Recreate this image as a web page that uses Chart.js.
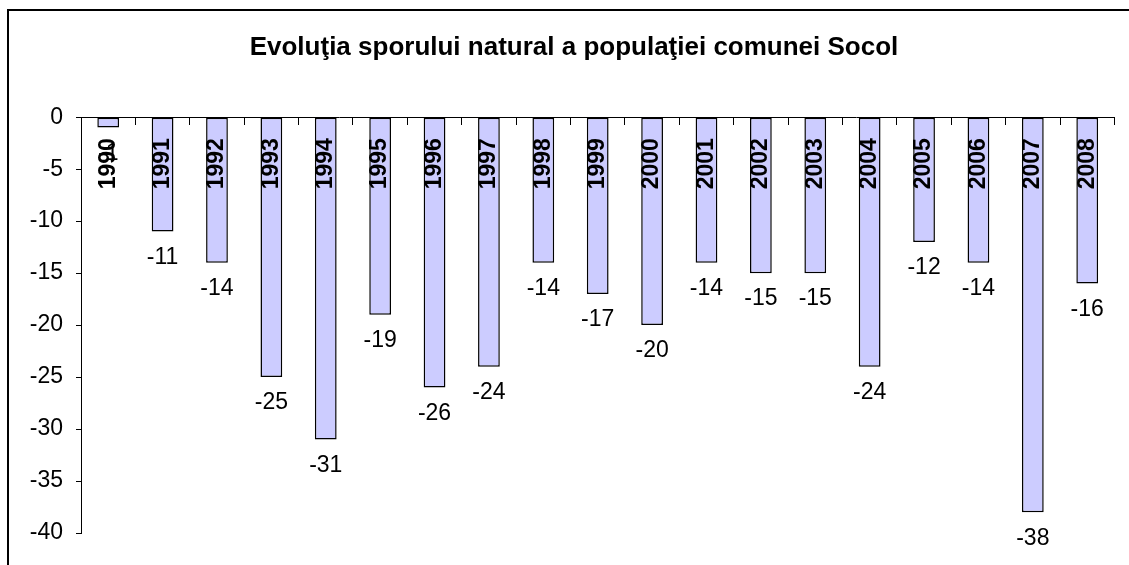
<!DOCTYPE html>
<html>
<head>
<meta charset="utf-8">
<script src="https://cdn.jsdelivr.net/npm/chart.js@4.4.0/dist/chart.umd.min.js"></script>
<style>
  html, body { margin: 0; padding: 0; background: #ffffff; overflow: hidden; }
  #wrap { position: relative; width: 1129px; height: 565px; }
</style>
</head>
<body>
<div id="wrap"><canvas id="c" width="1129" height="565"></canvas></div>
<script>
const titleText = 'Evoluţia sporului natural a populaţiei comunei Socol';
const years = ['1990','1991','1992','1993','1994','1995','1996','1997','1998','1999','2000','2001','2002','2003','2004','2005','2006','2007','2008'];
const sporNatural = [-1,-11,-14,-25,-31,-19,-26,-24,-14,-17,-20,-14,-15,-15,-24,-12,-14,-38,-16];
const yMin = -40, yMax = 0, yStep = 5;

const FONT = "'Liberation Sans', Arial, sans-serif";

const framePlugin = {
  id: 'frame',
  beforeDraw(chart) {
    const ctx = chart.ctx;
    ctx.save();
    ctx.fillStyle = '#ffffff';
    ctx.fillRect(0, 0, chart.width, chart.height);
    ctx.strokeStyle = '#000000';
    ctx.lineWidth = 2;
    ctx.strokeRect(8, 10, chart.width + 20, chart.height + 20);
    ctx.restore();
  }
};

const valueLabels = {
  id: 'valueLabels',
  afterDatasetsDraw(chart) {
    const ctx = chart.ctx;
    const meta = chart.getDatasetMeta(0);
    ctx.save();
    ctx.font = '23px ' + FONT;
    ctx.fillStyle = '#000000';
    ctx.textAlign = 'center';
    ctx.textBaseline = 'middle';
    meta.data.forEach((bar, i) => {
      ctx.fillText(String(sporNatural[i]), bar.x, bar.y + 26);
    });
    ctx.restore();
  }
};

new Chart(document.getElementById('c'), {
  type: 'bar',
  data: {
    labels: years,
    datasets: [{
      data: sporNatural,
      backgroundColor: '#CCCCFF',
      borderColor: '#000000',
      borderWidth: 1.5,
      borderSkipped: false,
      categoryPercentage: 1.0,
      barPercentage: 0.4
    }]
  },
  options: {
    responsive: false,
    animation: false,
    layout: { padding: { left: 26, right: 7, top: 0, bottom: 32 } },
    plugins: {
      legend: { display: false },
      tooltip: { enabled: false },
      title: {
        display: true,
        text: titleText,
        color: '#000000',
        font: { family: FONT, size: 26, weight: 'bold', lineHeight: 1.2 },
        padding: { top: 32, bottom: 54 }
      }
    },
    scales: {
      x: {
        position: { y: 0 },
        offset: true,
        grid: { display: true, drawOnChartArea: false, drawTicks: true, tickLength: 7, color: '#000000', offset: true },
        border: { display: true, color: '#000000', width: 1 },
        ticks: {
          z: 1,
          color: '#000000',
          font: { family: FONT, size: 23, weight: 'bold' },
          minRotation: 90,
          maxRotation: 90,
          autoSkip: false,
          padding: 14
        }
      },
      y: {
        min: yMin,
        max: yMax,
        afterFit(scale) { scale.width = 55; },
        grid: { display: true, drawOnChartArea: false, drawTicks: true, tickLength: 5, color: '#000000' },
        border: { display: true, color: '#000000', width: 1 },
        ticks: {
          stepSize: yStep,
          color: '#000000',
          font: { family: FONT, size: 23 },
          padding: 13
        }
      }
    }
  },
  plugins: [framePlugin, valueLabels]
});
</script>
</body>
</html>
